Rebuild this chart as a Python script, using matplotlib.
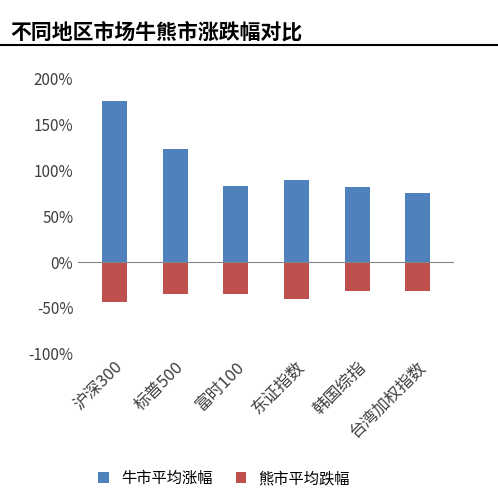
import numpy as np
import matplotlib.pyplot as plt
from matplotlib.ticker import FuncFormatter

plt.rcParams['font.family'] = ['Noto Sans CJK SC', 'DejaVu Sans']

categories = ['沪深300', '标普500', '富时100', '东证指数', '韩国综指', '台湾加权指数']
bull = [175, 123, 83, 89, 82, 75]
bear = [-43, -35, -35, -40, -32, -32]

fig = plt.figure(figsize=(4.98, 4.95), dpi=100)
ax = fig.add_axes([0.157, 0.285, 0.755, 0.557])

x = np.arange(len(categories))
ax.bar(x, bull, width=0.41, color='#4F81BD', label='牛市平均涨幅')
ax.bar(x, bear, width=0.41, color='#C0504D', label='熊市平均跌幅')

ax.set_ylim(-100, 200)
ax.set_yticks(range(-100, 201, 50))
ax.yaxis.set_major_formatter(FuncFormatter(lambda v, p: f'{int(v)}%'))
ax.set_xlim(-0.6, len(categories) - 0.4)
ax.set_xticks(x)
ax.set_xticklabels(categories, rotation=45, ha='right', rotation_mode='anchor', fontsize=12, color='#404040')
ax.tick_params(axis='y', labelsize=11, colors='#404040', length=0)
ax.tick_params(axis='x', length=0)
ax.axhline(0, color='#868686', lw=0.8)
for s in ax.spines.values():
    s.set_visible(False)

fig.text(0.02, 0.935, '不同地区市场牛熊市涨跌幅对比', fontsize=15, fontweight='bold', va='center')
fig.add_artist(plt.Line2D([0.0, 1.0], [0.909, 0.909], color='black', lw=1.5))

fig.legend(loc='lower center', bbox_to_anchor=(0.45, -0.012), ncol=2, frameon=False,
           fontsize=11, handlelength=0.7, handleheight=0.7, columnspacing=1.5)

fig.savefig('out.png', dpi=100)
